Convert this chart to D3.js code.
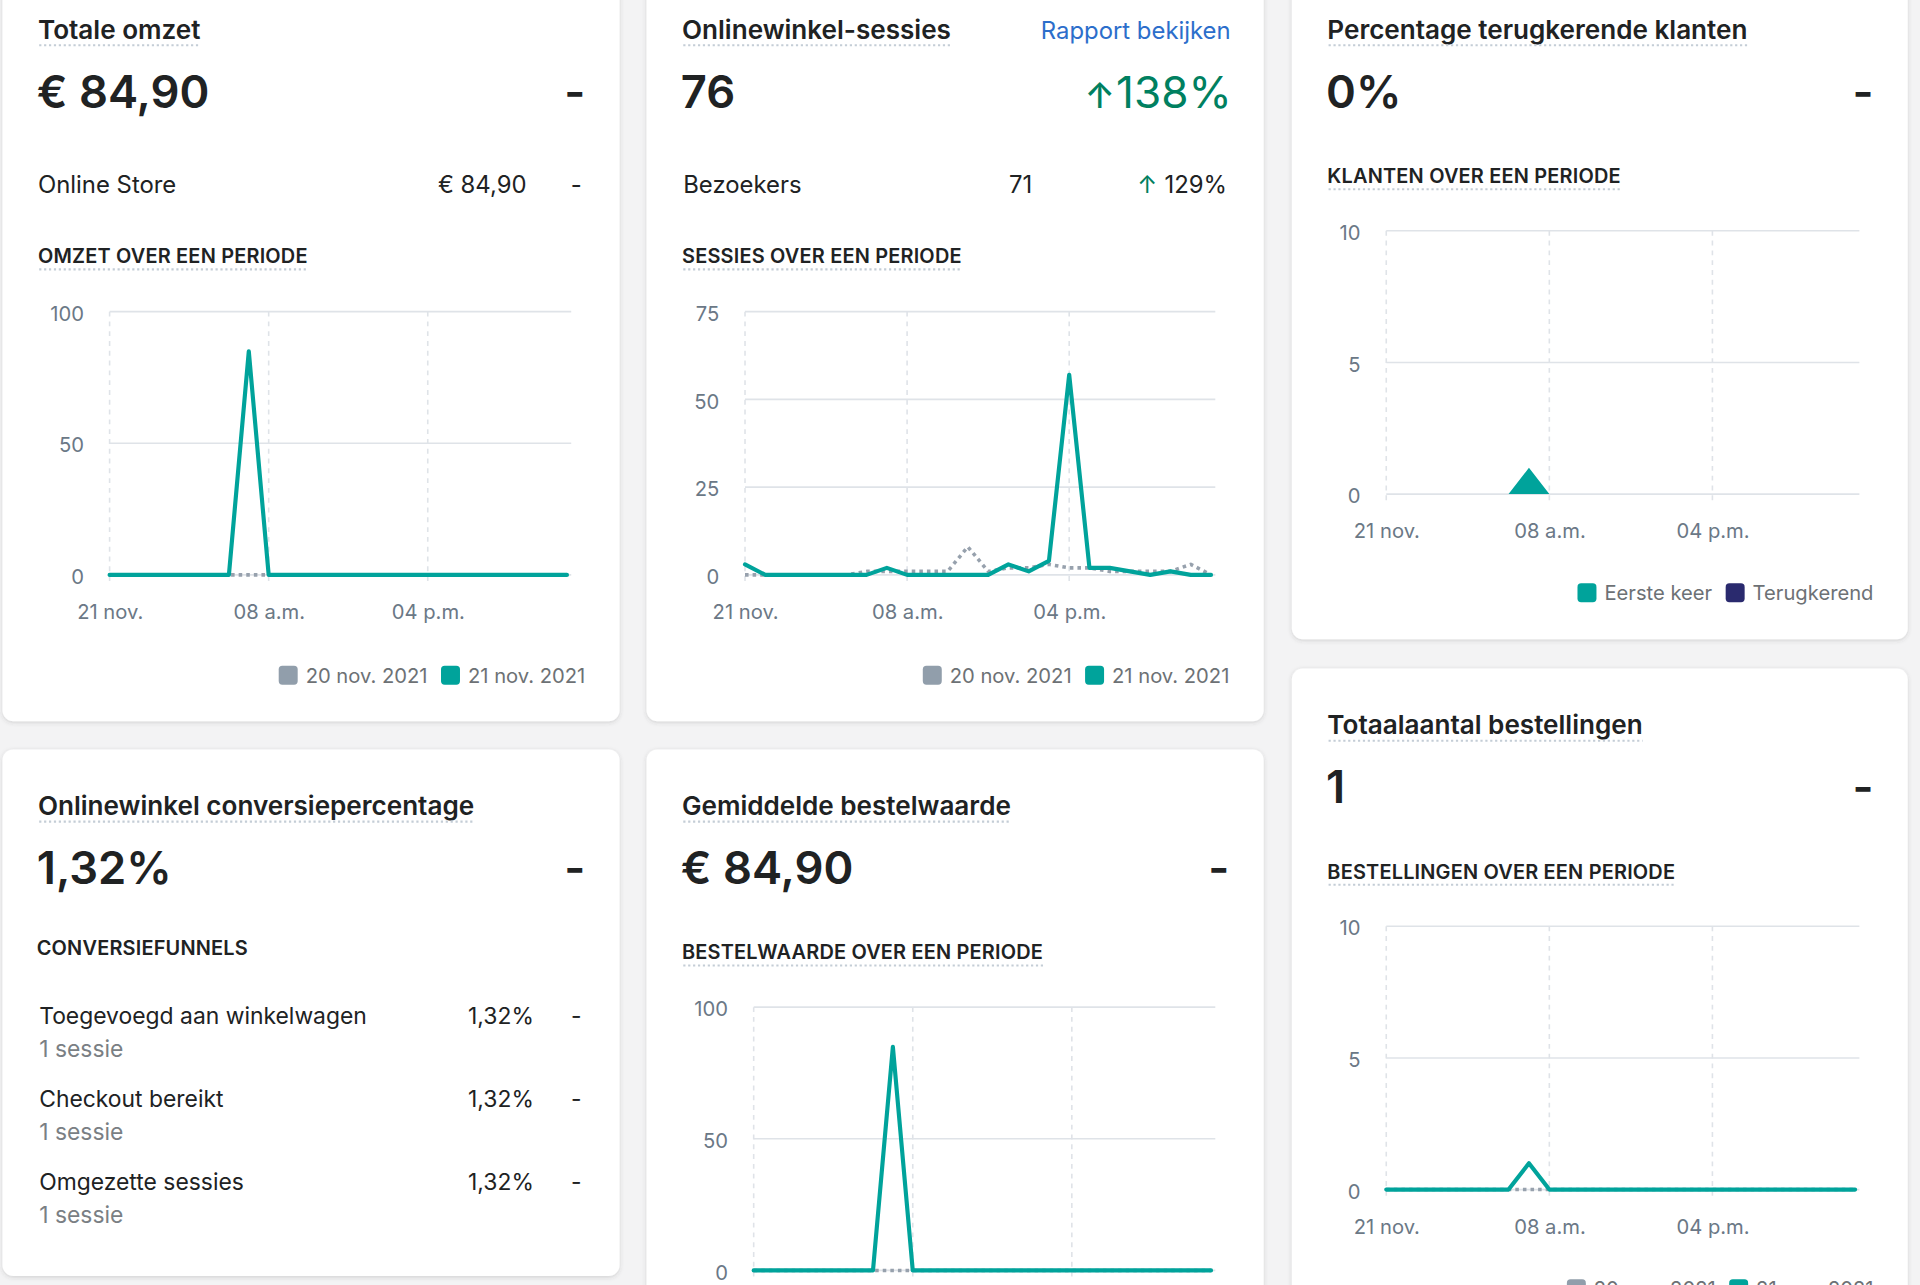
<!DOCTYPE html>
<html>
<head>
<meta charset="utf-8">
<script src="https://cdn.jsdelivr.net/npm/d3@7"></script>
<style>
html,body{margin:0;padding:0;background:#f4f4f5;overflow:hidden;}
svg{display:block;}
</style>
</head>
<body>
<svg id="c"></svg>
<script>
// ---------------- data ----------------
const hours = [0,1,2,3,4,5,6,7,8,9,10,11,12,13,14,15,16,17,18,19,20,21,22,23];
const xTickHours = [0, 8, 16];
const xTickLabels = ["21 nov.", "08 a.m.", "04 p.m."];
const periodLegend = ["20 nov. 2021", "21 nov. 2021"];
const customerLegend = ["Eerste keer", "Terugkerend"];

const cardTitles = ["Totale omzet", "Onlinewinkel-sessies", "Percentage terugkerende klanten",
  "Onlinewinkel conversiepercentage", "Gemiddelde bestelwaarde", "Totaalaantal bestellingen"];
const cardValues = ["€ 84,90", "76", "0%", "1,32%", "€ 84,90", "1"];
const cardChanges = ["-", "138%", "-", "-", "-", "-"];
const sectionHeaders = ["OMZET OVER EEN PERIODE", "SESSIES OVER EEN PERIODE", "KLANTEN OVER EEN PERIODE",
  "CONVERSIEFUNNELS", "BESTELWAARDE OVER EEN PERIODE", "BESTELLINGEN OVER EEN PERIODE"];

const omzetRow = ["Online Store", "€ 84,90", "-"];
const bezoekersRow = ["Bezoekers", "71", "129%"];

const omzetTicks = [0, 50, 100];
const omzetNov20 = [0,0,0,0,0,0,0,0,0,0,0,0,0,0,0,0,0,0,0,0,0,0,0,0];
const omzetNov21 = [0,0,0,0,0,0,0,84.9,0,0,0,0,0,0,0,0,0,0,0,0,0,0,0,0];

const sessiesTicks = [0, 25, 50, 75];
const sessiesNov20 = [0,0,0,0,0,0,1,1,1,1,1,8,1,2,2,3,2,2,1,1,1,1,3,0];
const sessiesNov21 = [3,0,0,0,0,0,0,2,0,0,0,0,0,3,1,4,57,2,2,1,0,1,0,0];

const klantenTicks = [0, 5, 10];
const klantenEersteKeer = [0,0,0,0,0,0,0,1,0,0,0,0,0,0,0,0,0,0,0,0,0,0,0,0];
const klantenTerugkerend = [0,0,0,0,0,0,0,0,0,0,0,0,0,0,0,0,0,0,0,0,0,0,0,0];

const bestelwaardeTicks = [0, 50, 100];
const bestelwaardeNov20 = [0,0,0,0,0,0,0,0,0,0,0,0,0,0,0,0,0,0,0,0,0,0,0,0];
const bestelwaardeNov21 = [0,0,0,0,0,0,0,84.9,0,0,0,0,0,0,0,0,0,0,0,0,0,0,0,0];

const bestellingenTicks = [0, 5, 10];
const bestellingenNov20 = [0,0,0,0,0,0,0,0,0,0,0,0,0,0,0,0,0,0,0,0,0,0,0,0];
const bestellingenNov21 = [0,0,0,0,0,0,0,1,0,0,0,0,0,0,0,0,0,0,0,0,0,0,0,0];

const funnelSteps = ["Toegevoegd aan winkelwagen", "Checkout bereikt", "Omgezette sessies"];
const funnelRates = ["1,32%", "1,32%", "1,32%"];
const funnelSessions = ["1 sessie", "1 sessie", "1 sessie"];

// ---------------- style ----------------
const FONT = "Inter, 'Noto Sans', 'DejaVu Sans', sans-serif";
const C = {
  text: "#202223", sub: "#6d7175", axis: "#6b7886", grid: "#dfe3e8",
  teal: "#00a39b", gray: "#97a1ad", navy: "#2a2a6e", green: "#008060", blue: "#2c6ecb",
  dots: "#c4cdd6"
};

const W = 1568, H = 1285 * 1568 / 1920;
const svg = d3.select("#c").attr("width", 1920).attr("height", 1285)
  .attr("viewBox", `0 0 ${W} ${H}`).style("font-family", FONT);
svg.append("rect").attr("width", W).attr("height", H).attr("fill", "#f3f3f4");

const defs = svg.append("defs");
const flt = defs.append("filter").attr("id", "sh").attr("x", "-5%").attr("y", "-5%").attr("width", "110%").attr("height", "110%");
flt.append("feDropShadow").attr("dx", 0).attr("dy", 1).attr("stdDeviation", 1.6)
  .attr("flood-color", "#3f3f44").attr("flood-opacity", 0.2);

const cards = [
  {x: 2,    y: -22, w: 504, h: 611},
  {x: 528,  y: -22, w: 504, h: 611},
  {x: 1055, y: -22, w: 503, h: 544},
  {x: 2,    y: 612, w: 504, h: 430},
  {x: 528,  y: 612, w: 504, h: 480},
  {x: 1055, y: 546, w: 503, h: 560}
];

function txt(g, x, y, s, o = {}) {
  const t = g.append("text").attr("x", x).attr("y", y).text(s)
    .attr("font-size", o.size || 19.5).attr("font-weight", o.weight || 400)
    .attr("fill", o.fill || C.text);
  if (o.anchor) t.attr("text-anchor", o.anchor);
  if (o.ls != null) t.attr("letter-spacing", o.ls);
  return t;
}
function underline(g, t, dy) {
  const bb = t.node().getBBox();
  const y = +t.attr("y") + dy;
  g.append("line").attr("x1", bb.x + 1).attr("x2", bb.x + bb.width)
    .attr("y1", y).attr("y2", y).attr("stroke", C.dots).attr("stroke-width", 1.7)
    .attr("stroke-dasharray", "1.8 2.2");
}

function legend(g, right, cy, items) {
  const fs = 16.5;
  const grp = g.append("g");
  const widths = items.map(it => {
    const t = grp.append("text").attr("font-size", fs).text(it.label);
    const w = t.node().getComputedTextLength(); t.remove(); return w;
  });
  const total = d3.sum(widths) + items.length * (15.5 + 6.5) + 11 * (items.length - 1);
  let x = right - total;
  items.forEach((it, i) => {
    grp.append("rect").attr("x", x).attr("y", cy - 7.75).attr("width", 15.5).attr("height", 15.5)
      .attr("rx", 3).attr("fill", it.color);
    grp.append("text").attr("x", x + 22).attr("y", cy + 6).attr("font-size", fs)
      .attr("fill", C.sub).text(it.label);
    x += 22 + widths[i] + 11;
  });
}

function drawChart(g, c, cfg) {
  const yTop = cfg.top, y0 = yTop + 215;
  const y = d3.scaleLinear().domain([0, d3.max(cfg.ticks)]).range([y0, yTop]);
  const yAxis = g.append("g").call(d3.axisLeft(y).tickValues(cfg.ticks).tickSize(0).tickPadding(0));
  yAxis.attr("font-family", FONT).attr("font-size", 16.5);
  yAxis.select(".domain").remove();
  yAxis.selectAll("text").attr("fill", C.axis).attr("dy", "0.42em");
  const lw = yAxis.node().getBBox().width;
  const labelRight = c.x + 39 + lw;
  yAxis.attr("transform", `translate(${labelRight},0)`);
  const x0 = labelRight + 21, xR = c.x + c.w - 39.5;
  const x = d3.scaleLinear().domain([0, 23]).range([x0, xR - 3.5]);

  g.append("g").selectAll("line").data(cfg.ticks).join("line")
    .attr("x1", x0).attr("x2", xR).attr("y1", d => y(d)).attr("y2", d => y(d))
    .attr("stroke", C.grid).attr("stroke-width", 1.3);
  g.append("g").selectAll("line").data(xTickHours).join("line")
    .attr("x1", d => x(d)).attr("x2", d => x(d)).attr("y1", yTop).attr("y2", y0 + 7)
    .attr("stroke", C.grid).attr("stroke-width", 1.3).attr("stroke-dasharray", "4 4");

  if (!cfg.hideBelow) {
    const xAxis = g.append("g").attr("transform", `translate(0,${y0})`)
      .call(d3.axisBottom(x).tickValues(xTickHours).tickFormat((d, i) => xTickLabels[i]).tickSize(0).tickPadding(24.5));
    xAxis.attr("font-family", FONT).attr("font-size", 16.5);
    xAxis.select(".domain").remove();
    xAxis.selectAll("text").attr("fill", C.axis);
  }

  if (cfg.area) {
    const rows = hours.map((h, i) => ({h, eerste: cfg.area[0][i], terug: cfg.area[1][i]}));
    const stacked = d3.stack().keys(["eerste", "terug"])(rows);
    const area = d3.area().x(d => x(d.data.h)).y0(d => y(d[0])).y1(d => y(d[1]));
    g.append("g").selectAll("path").data(stacked).join("path")
      .attr("d", area).attr("fill", (d, i) => cfg.colors[i]);
  } else {
    cfg.series.forEach(s => {
      const line = d3.line().x((d, i) => x(hours[i])).y(d => y(d));
      g.append("path").datum(s.values).attr("d", line).attr("fill", "none")
        .attr("stroke", s.color).attr("stroke-width", s.dashed ? 2.9 : 3.4)
        .attr("stroke-dasharray", s.dashed ? "2.9 3.3" : null)
        .attr("stroke-linejoin", "round").attr("stroke-linecap", s.dashed ? "butt" : "round");
    });
  }
  if (!cfg.hideBelow) legend(g, c.x + c.w - 28, y0 + cfg.legendDy, cfg.legend);
}

const periodItems = [{label: periodLegend[0], color: "#919eab"}, {label: periodLegend[1], color: C.teal}];

cards.forEach((c, i) => {
  const g = svg.append("g");
  g.append("rect").attr("x", c.x).attr("y", c.y).attr("width", c.w).attr("height", c.h)
    .attr("rx", 9).attr("fill", "#fff").attr("filter", "url(#sh)");
  const L = c.x + 29, R = c.x + c.w - 28;

  const title = txt(g, L, c.y + 53.5, cardTitles[i], {size: 21.3, weight: 600});
  underline(g, title, 5.5);

  txt(g, L - 1, c.y + 110, cardValues[i], {size: 37, weight: 600});
  if (i === 1) {
    const t = txt(g, R + 2, c.y + 110, "", {size: 36, weight: 400, fill: C.green, anchor: "end"});
    t.append("tspan").attr("font-size", 29).attr("font-weight", 500).text("↑");
    t.append("tspan").attr("dx", 1).text(cardChanges[i]);
  } else {
    txt(g, R, c.y + 110, cardChanges[i], {size: 37, weight: 600, anchor: "end"});
  }

  if (i === 0) {
    txt(g, L, c.y + 180, omzetRow[0]);
    txt(g, c.x + 428, c.y + 180, omzetRow[1], {anchor: "end"});
    txt(g, R - 3, c.y + 180, omzetRow[2], {anchor: "end"});
  }
  if (i === 1) {
    txt(g, R + 1, c.y + 53.5, "Rapport bekijken", {fill: C.blue, anchor: "end"});
    txt(g, L + 1, c.y + 180, bezoekersRow[0]);
    txt(g, c.x + 315, c.y + 180, bezoekersRow[1], {anchor: "end"});
    const t = txt(g, R - 2, c.y + 180, "", {anchor: "end"});
    t.append("tspan").attr("fill", C.green).text("↑");
    t.append("tspan").attr("dx", 6).text(bezoekersRow[2]);
  }

  if (i === 3) {
    txt(g, L - 1, c.y + 168, sectionHeaders[i], {size: 16.3, weight: 600, ls: 0.15});
    funnelSteps.forEach((s, k) => {
      const yy = c.y + 224 + k * 68;
      txt(g, L + 1, yy, s, {size: 18.7});
      txt(g, c.x + 434, yy, funnelRates[k], {size: 18.7, anchor: "end"});
      txt(g, R - 3, yy, "-", {size: 18.7, anchor: "end"});
      txt(g, L + 1, yy + 27, funnelSessions[k], {size: 18.7, fill: "#7a7f84"});
    });
    return;
  }

  const hy = (i < 2) ? c.y + 237 : c.y + 171.5;
  const hdr = txt(g, L, hy, sectionHeaders[i], {size: 16.3, weight: 600, ls: 0.15});
  underline(g, hdr, 5);

  const top = (i < 2) ? c.y + 276.5 : c.y + 210.5;
  if (i === 0) drawChart(g, c, {top, ticks: omzetTicks, legendDy: 82, legend: periodItems,
    series: [{values: omzetNov20, color: C.gray, dashed: true}, {values: omzetNov21, color: C.teal}]});
  if (i === 1) drawChart(g, c, {top, ticks: sessiesTicks, legendDy: 82, legend: periodItems,
    series: [{values: sessiesNov20, color: C.gray, dashed: true}, {values: sessiesNov21, color: C.teal}]});
  if (i === 2) drawChart(g, c, {top, ticks: klantenTicks, legendDy: 80.6,
    legend: [{label: customerLegend[0], color: C.teal}, {label: customerLegend[1], color: C.navy}],
    area: [klantenEersteKeer, klantenTerugkerend], colors: [C.teal, C.navy]});
  if (i === 4) drawChart(g, c, {top, ticks: bestelwaardeTicks, legendDy: 81, legend: periodItems, hideBelow: true,
    series: [{values: bestelwaardeNov20, color: C.gray, dashed: true}, {values: bestelwaardeNov21, color: C.teal}]});
  if (i === 5) drawChart(g, c, {top, ticks: bestellingenTicks, legendDy: 81, legend: periodItems,
    series: [{values: bestellingenNov20, color: C.gray, dashed: true}, {values: bestellingenNov21, color: C.teal}]});
});
</script>
</body>
</html>
